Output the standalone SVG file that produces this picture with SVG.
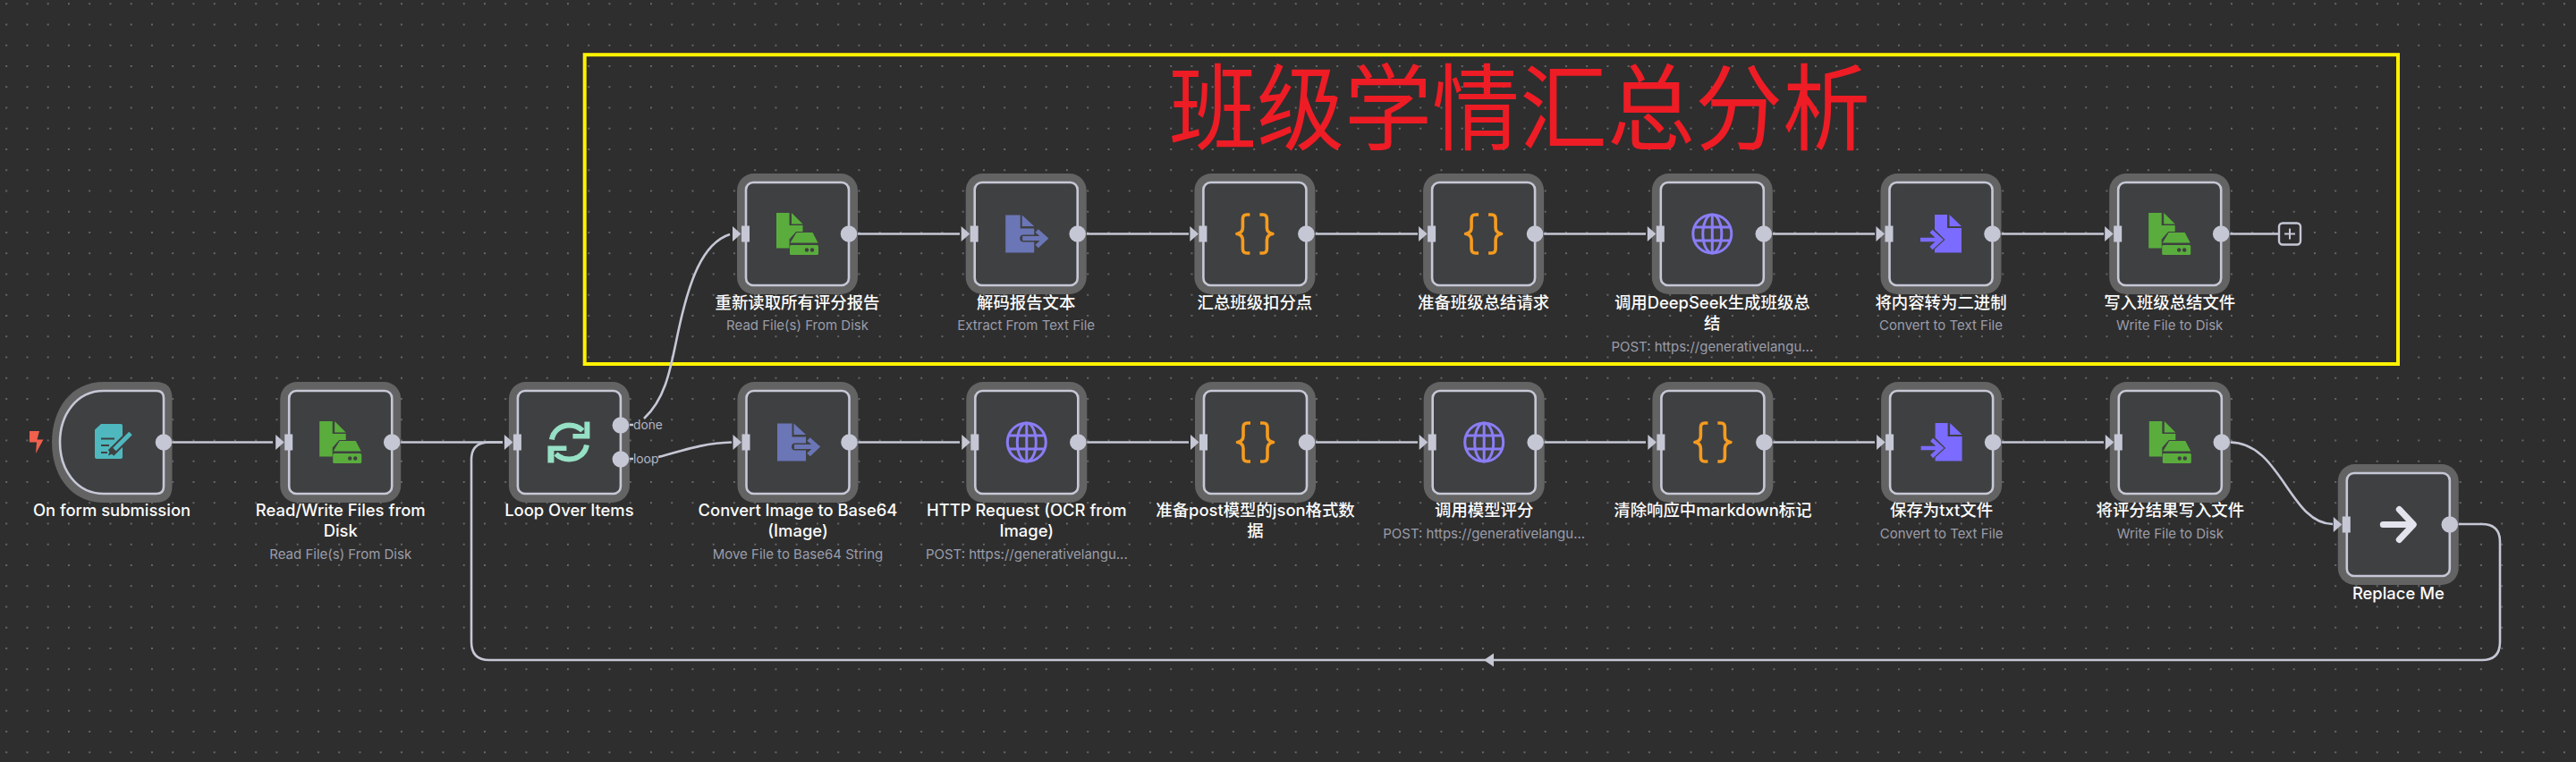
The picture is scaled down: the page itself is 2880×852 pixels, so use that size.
<svg xmlns="http://www.w3.org/2000/svg" xmlns:xlink="http://www.w3.org/1999/xlink" width="2880" height="852" viewBox="0 0 2880 852">
<style>
.halo{fill:#636363}
.box{fill:#3f4042;stroke:#c6c8d6;stroke-width:2.6}
.port{fill:#c5c7d5}
.wire{fill:none;stroke:#c5c7d5;stroke-width:2.6}
.t{font-family:"Inter","Noto Sans CJK SC",sans-serif;font-size:18.4px;font-weight:500;fill:#fbfbfb;text-anchor:middle}
.s{font-family:"Inter","Noto Sans",sans-serif;font-size:15px;fill:#9a9daa;text-anchor:middle}
.p{font-family:"Inter","Noto Sans",sans-serif;font-size:13.8px;fill:#b3b6c4}
.title{font-family:"Noto Sans CJK SC",sans-serif;font-size:98px;fill:#ee1c25}
.green{fill:#5aad3d}.gd{fill:#3f4042}
.brace{fill:none;stroke:#f59b1f;stroke-width:3.6;stroke-linejoin:round}
.globe{fill:none;stroke:#8a7df5;stroke-width:3}
</style>
<defs>
<pattern id="dots" patternUnits="userSpaceOnUse" x="-4.4" y="-7.4" width="23.25" height="23.25"><circle cx="11.6" cy="11.6" r="1" fill="#77787c"/></pattern>
<g id="frame">
<rect class="halo" x="-67.5" y="-67.5" width="135" height="135" rx="19"/>
<rect class="box" x="-57.5" y="-57.5" width="115" height="115" rx="8"/>
</g>
<g id="inport">
<path class="port" d="M-72.5-8.5V8.5L-63 0Z"/>
<rect class="port" x="-62.5" y="-9" width="9" height="18"/>
</g>
<circle id="outport" class="port" cx="57.5" cy="0" r="9.3"/>
<g id="i-file">
<path class="green" d="M-23.5-23.5H-9V-9.5H6V-2.5H-1.500L-9 6V16H-23.5Z"/>
<path class="green" d="M-6.500-23.500L6-11H-6.500Z"/>
<path class="green" d="M-1-1.500H17L23 10H-8Z"/>
<rect class="green" x="-8.500" y="12.500" width="32" height="11" rx="1.500"/>
<circle class="gd" cx="10.500" cy="18" r="2.200"/><circle class="gd" cx="16.500" cy="18" r="2.200"/>
</g>
<g id="i-extract">
<path fill="#6b76b6" d="M-23-21H-6.500V-6H9V1H-3Q-7 1-7 5Q-7 9-3 9H9V21H-23Z"/>
<path fill="#6b76b6" d="M-4.500-21L9-8.500H-4.500Z"/>
<path fill="none" stroke="#6b76b6" stroke-width="5" d="M-4 5H20M12-3.500L21.500 5L12 14"/>
</g>
<g id="i-tofile">
<path fill="#7b6bff" d="M-7-21.500H7V-6.500H23V21H-7V17L4.500 6.500L-7-5Z"/>
<path fill="#7b6bff" d="M9.500-21.500L23-8.500H9.500Z"/>
<path fill="none" stroke="#7b6bff" stroke-width="4.500" d="M-23 6.500H-1M-11-3L-0.500 6.500L-11 16"/>
</g>
<g id="i-brace">
<path class="brace" d="M-5.500-21.500H-9Q-13.500-21.500-13.500-16.500V-7Q-13.500-1-20 0Q-13.500 1-13.500 7V16.500Q-13.500 21.500-9 21.500H-5.500"/>
<path class="brace" d="M5.500-21.500H9Q13.500-21.500 13.500-16.500V-7Q13.500-1 20 0Q13.500 1 13.500 7V16.500Q13.500 21.500 9 21.500H5.500"/>
</g>
<g id="i-globe" class="globe">
<circle r="21.500"/><ellipse rx="10.500" ry="21.500"/>
<path d="M0-21.500V21.500M-19.500-7.500H19.500M-19.500 7.500H19.500"/>
</g>
</defs>
<rect width="2880" height="852" fill="#2e2e2e"/>
<rect width="2880" height="852" fill="url(#dots)"/>
<rect id="frame-box" x="653.700" y="61.200" width="2027.300" height="345.800" fill="none" stroke="#fff200" stroke-width="4"/>
<text class="title" transform="translate(1699 159) scale(1 1.07)" text-anchor="middle">班级学情汇总分析</text>
<g id="connectors">
<path class="wire" d="M192 494.500H305"/>
<path class="wire" d="M448 494.500H562"/>
<path class="wire" d="M2795 620V606Q2795 586 2775 586H2748M2795 620V718Q2795 738 2775 738H547Q527 738 527 718V514Q527 494.500 547 494.500H562"/>
<path class="port" d="M1659 738L1670 730.500V745.500Z"/>
<path class="wire" d="M703 475H708M703 513H708"/>
<path class="wire" d="M720 468C745 445 750 410 758 372C770 315 785 272 816 262"/>
<path class="wire" d="M736 511C765 503 790 495 818 494.500"/>
<path class="wire" d="M959 261.500H1073M1214.700 261.500H1329M1470.400 261.500H1585M1726 261.500H1840M1981.800 261.500H2096M2237.500 261.500H2352M2493.200 261.500H2548"/>
<path class="wire" d="M959 494.500H1073M1214.700 494.500H1329M1470.400 494.500H1585M1726 494.500H1840M1981.800 494.500H2096M2237.500 494.500H2352"/>
<path class="wire" d="M2493 494.500C2550 494.500 2560 586 2608 586"/>
</g>
<g id="node-form" transform="translate(125 494.500)">
<path class="halo" d="M-9-67.500H49Q67.500-67.500 67.500-49V49Q67.500 67.500 49 67.500H-9C-45 67.500-67 38-67 0S-45-67.500-9-67.500Z"/>
<path class="box" d="M-9-57.500H50Q58-57.500 58-49.500V49.500Q58 57.500 50 57.500H-9C-40 57.500-58 30-58 0S-40-57.500-9-57.500Z"/>
<circle class="port" cx="58" cy="0" r="9.300"/>
<path fill="#f0604c" d="M-92-12.500H-81L-83.500-3H-76.500L-85 12.500L-84 0H-92Z"/>
<path fill="#4fb8bf" d="M-12-20.500H10Q12-20.500 12-18.500V16.500Q12 18.500 10 18.500H-17Q-19 18.500-19 16.500V-14Z"/>
<path fill="none" stroke="#3f4042" stroke-width="2" d="M-12-4H3M-12 3.500H-3M-12 11.500H-5"/>
<path fill="none" stroke="#3f4042" stroke-width="9" d="M-1 12L19-8"/>
<path fill="none" stroke="#4fb8bf" stroke-width="5" d="M3 8L21-10"/>
<path fill="#3f4042" d="M-4 15L-1 5L5 11Z"/>
<text class="t" x="0" y="82.500">On form submission</text>
</g>
<g id="node-readwrite" transform="translate(380.700 494.500)">
<use href="#frame"/><use href="#inport"/><use href="#outport"/><use href="#i-file"/>
<text class="t" x="0" y="82.500">Read/Write Files from</text><text class="t" x="0" y="105.500">Disk</text>
<text class="s" x="0" y="130.500">Read File(s) From Disk</text>
</g>
<g id="node-loop" transform="translate(636.400 494.500)">
<use href="#frame"/><use href="#inport"/>
<circle class="port" cx="57.500" cy="-19" r="9.300"/><circle class="port" cx="57.500" cy="19" r="9.300"/>
<path fill="none" stroke="#96e0c5" stroke-width="6" d="M-19.500-3C-18-13-9-19 0-19C7-19 12-16 15-13M19.500 3C18 13 9 19 0 19C-6 19-11 17-15 13"/>
<path fill="#96e0c5" d="M23-23V-4H4V-9.500H17V-23ZM-24 23V4H-3V9.500H-17V23Z"/>
<text class="p" x="71.600" y="-14.500">done</text><text class="p" x="71.600" y="23.500">loop</text>
<text class="t" x="0" y="82.500">Loop Over Items</text>
</g>
<g id="node-convert-b64" transform="translate(892 494.500)">
<use href="#frame"/><use href="#inport"/><use href="#outport"/><use href="#i-extract"/>
<text class="t" x="0" y="82.500">Convert Image to Base64</text><text class="t" x="0" y="105.500">(Image)</text>
<text class="s" x="0" y="130.500">Move File to Base64 String</text>
</g>
<g id="node-http-ocr" transform="translate(1147.800 494.500)">
<use href="#frame"/><use href="#inport"/><use href="#outport"/><use href="#i-globe"/>
<text class="t" x="0" y="82.500">HTTP Request (OCR from</text><text class="t" x="0" y="105.500">Image)</text>
<text class="s" x="0" y="130.500">POST: https://generativelangu...</text>
</g>
<g id="node-prep-json" transform="translate(1403.500 494.500)">
<use href="#frame"/><use href="#inport"/><use href="#outport"/><use href="#i-brace"/>
<text class="t" x="0" y="82.500">准备post模型的json格式数</text><text class="t" x="0" y="105.500">据</text>
</g>
<g id="node-call-model" transform="translate(1659.200 494.500)">
<use href="#frame"/><use href="#inport"/><use href="#outport"/><use href="#i-globe"/>
<text class="t" x="0" y="82.500">调用模型评分</text>
<text class="s" x="0" y="107.500">POST: https://generativelangu...</text>
</g>
<g id="node-clean-md" transform="translate(1914.900 494.500)">
<use href="#frame"/><use href="#inport"/><use href="#outport"/><use href="#i-brace"/>
<text class="t" x="0" y="82.500">清除响应中markdown标记</text>
</g>
<g id="node-save-txt" transform="translate(2170.600 494.500)">
<use href="#frame"/><use href="#inport"/><use href="#outport"/><use href="#i-tofile"/>
<text class="t" x="0" y="82.500">保存为txt文件</text>
<text class="s" x="0" y="107.500">Convert to Text File</text>
</g>
<g id="node-write-score" transform="translate(2426.300 494.500)">
<use href="#frame"/><use href="#inport"/><use href="#outport"/><use href="#i-file"/>
<text class="t" x="0" y="82.500">将评分结果写入文件</text>
<text class="s" x="0" y="107.500">Write File to Disk</text>
</g>
<g id="node-replace" transform="translate(2681.300 586.500)">
<use href="#frame"/><use href="#inport"/><use href="#outport"/>
<path fill="none" stroke="#e2e3ec" stroke-width="7" stroke-linecap="round" stroke-linejoin="round" d="M-17 0H16M1-17L17 0L1 17"/>
<text class="t" x="0" y="83.500">Replace Me</text>
</g>
<g id="node-reread" transform="translate(891.500 261.500)">
<use href="#frame"/><use href="#inport"/><use href="#outport"/><use href="#i-file"/>
<text class="t" x="0" y="83.500">重新读取所有评分报告</text>
<text class="s" x="0" y="107.500">Read File(s) From Disk</text>
</g>
<g id="node-decode" transform="translate(1147.200 261.500)">
<use href="#frame"/><use href="#inport"/><use href="#outport"/><use href="#i-extract"/>
<text class="t" x="0" y="83.500">解码报告文本</text>
<text class="s" x="0" y="107.500">Extract From Text File</text>
</g>
<g id="node-sum" transform="translate(1402.900 261.500)">
<use href="#frame"/><use href="#inport"/><use href="#outport"/><use href="#i-brace"/>
<text class="t" x="0" y="83.500">汇总班级扣分点</text>
</g>
<g id="node-prep-summary" transform="translate(1658.600 261.500)">
<use href="#frame"/><use href="#inport"/><use href="#outport"/><use href="#i-brace"/>
<text class="t" x="0" y="83.500">准备班级总结请求</text>
</g>
<g id="node-deepseek" transform="translate(1914.300 261.500)">
<use href="#frame"/><use href="#inport"/><use href="#outport"/><use href="#i-globe"/>
<text class="t" x="0" y="83.500">调用DeepSeek生成班级总</text><text class="t" x="0" y="106.500">结</text>
<text class="s" x="0" y="131.500">POST: https://generativelangu...</text>
</g>
<g id="node-to-binary" transform="translate(2170 261.500)">
<use href="#frame"/><use href="#inport"/><use href="#outport"/><use href="#i-tofile"/>
<text class="t" x="0" y="83.500">将内容转为二进制</text>
<text class="s" x="0" y="107.500">Convert to Text File</text>
</g>
<g id="node-write-summary" transform="translate(2425.700 261.500)">
<use href="#frame"/><use href="#inport"/><use href="#outport"/><use href="#i-file"/>
<text class="t" x="0" y="83.500">写入班级总结文件</text>
<text class="s" x="0" y="107.500">Write File to Disk</text>
</g>
<g id="add-button" transform="translate(2560 261.500)">
<rect x="-12" y="-12" width="24" height="24" rx="4" fill="#2e2e2e" stroke="#c5c7d5" stroke-width="2.400"/>
<path d="M-6 0H6M0-6V6" stroke="#c5c7d5" stroke-width="2" fill="none"/>
</g>
</svg>
